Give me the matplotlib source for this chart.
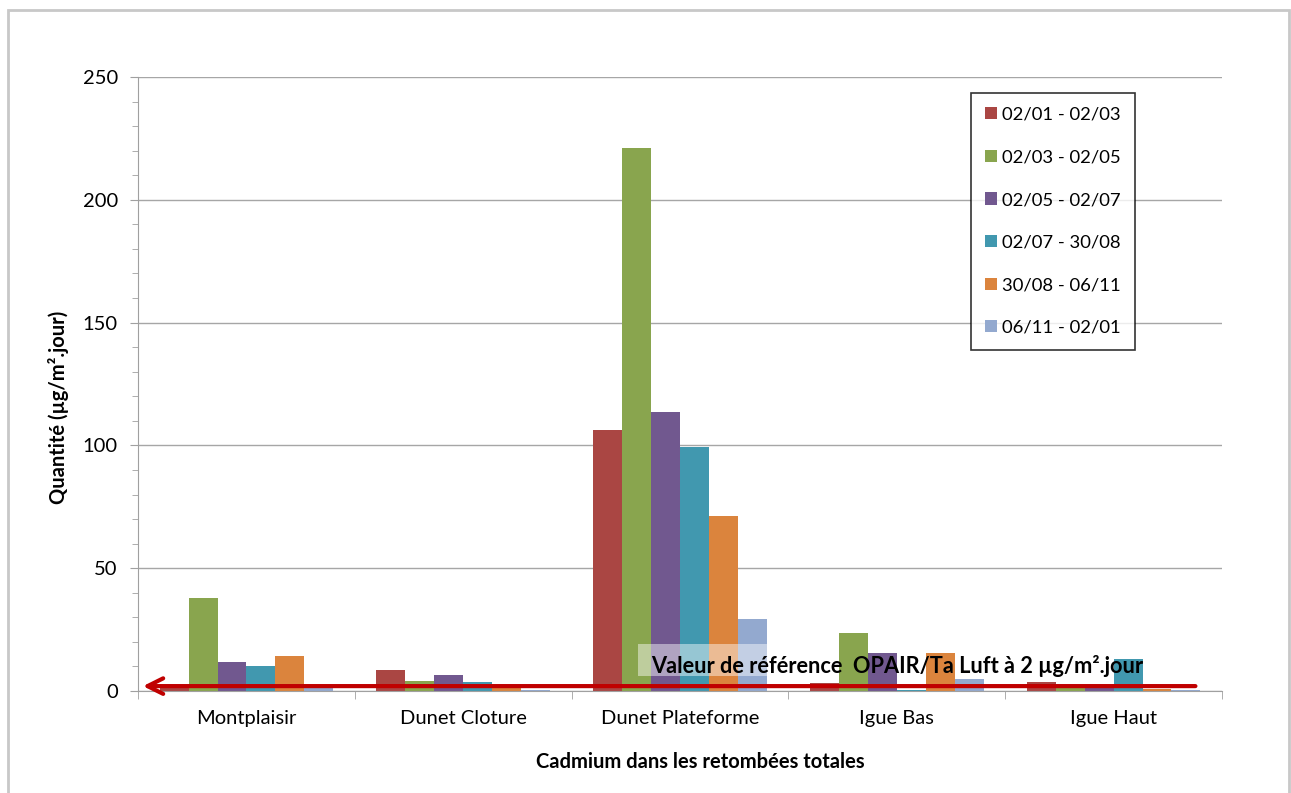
import matplotlib.pyplot as plt
import numpy as np
from matplotlib.patches import Rectangle

plt.rcParams['font.family'] = ['Lato', 'DejaVu Sans']

# Cadmium deposition data (µg/m².jour)
sites = ['Montplaisir', 'Dunet Cloture', 'Dunet Plateforme', 'Igue Bas', 'Igue Haut']
periods = ['02/01 - 02/03', '02/03 - 02/05', '02/05 - 02/07',
           '02/07 - 30/08', '30/08 - 06/11', '06/11 - 02/01']
p1 = [2.5, 8.5, 106.3, 3.1, 3.8]
p2 = [37.7, 4.0, 221.0, 23.5, 1.5]
p3 = [11.9, 6.4, 113.6, 15.5, 1.8]
p4 = [10.2, 3.7, 99.3, 0.5, 13.0]
p5 = [14.1, 1.8, 71.3, 15.5, 1.0]
p6 = [1.5, 0.4, 29.2, 4.9, 0.6]
reference_value = 2

series = [p1, p2, p3, p4, p5, p6]
colors = ['#AA4643', '#89A54E', '#71588F', '#4198AF', '#DB843D', '#93A9CF']

fig = plt.figure(figsize=(12.91, 7.93), dpi=100)
ax = fig.add_axes([0.1069, 0.1286, 0.8397, 0.7743])

x = np.arange(len(sites))
w = 0.8 / 6
for i, (vals, c, lab) in enumerate(zip(series, colors, periods)):
    ax.bar(x - 0.4 + w * (i + 0.5), vals, w, color=c, label=lab, zorder=2)

ax.set_xlim(-0.5, len(sites) - 0.5)
ax.set_ylim(0, 250)
ax.set_yticks(range(0, 251, 50))
ax.set_yticks(range(0, 251, 10), minor=True)
ax.set_xticks(x)
ax.set_xticklabels(sites, fontsize=14.5)
ax.set_xticks(np.arange(-0.5, len(sites)), minor=True)
ax.tick_params(axis='x', which='major', length=0, pad=14)
ax.tick_params(axis='x', which='minor', length=6, color='#A0A0A0', direction='out')
ax.tick_params(axis='y', which='major', length=6, color='#A0A0A0', labelsize=14.5, pad=8.5)
ax.tick_params(axis='y', which='minor', length=4, color='#A0A0A0')
ax.grid(axis='y', color='#A6A6A6', lw=1, zorder=0)
ax.set_axisbelow(True)
for s in ['top', 'right']:
    ax.spines[s].set_visible(False)
for s in ['left', 'bottom']:
    ax.spines[s].set_color('#A0A0A0')

ax.set_ylabel('Quantité (µg/m².jour)', fontsize=14.5, fontweight='bold')
ax.yaxis.set_label_coords(-0.064, 0.4625)
ax.set_xlabel('Cadmium dans les retombées totales', fontsize=14.5, fontweight='bold')
ax.xaxis.set_label_coords(0.519, -0.100)

# reference line with arrow
ax.annotate('', xy=(-0.49, reference_value), xytext=(4.39, reference_value),
            arrowprops=dict(arrowstyle='->', color='#C00000', lw=3, mutation_scale=28),
            zorder=4)
ax.add_patch(Rectangle((1.806, 6.1), 0.595, 13.0, facecolor='white', alpha=0.45,
                       edgecolor='none', zorder=3))
ax.text(1.866, 10.2, 'Valeur de référence  OPAIR/Ta Luft à 2 µg/m².jour',
        fontsize=15.7, fontweight='bold', va='center', ha='left', zorder=5)

leg = ax.legend(loc='upper right', bbox_to_anchor=(0.9197, 0.974), fontsize=13.3,
                frameon=True, fancybox=False, edgecolor='black', handlelength=0.65,
                handleheight=0.65, labelspacing=1.44, borderpad=0.75, handletextpad=0.3,
                borderaxespad=0)
leg.get_frame().set_linewidth(1.2)

# outer chart border
fig.patches.append(Rectangle((0.0062, -0.01), 0.992, 0.997, transform=fig.transFigure,
                             fill=False, edgecolor='#C8C8C8', lw=2))

plt.savefig('out.png', dpi=100)
plt.close()
